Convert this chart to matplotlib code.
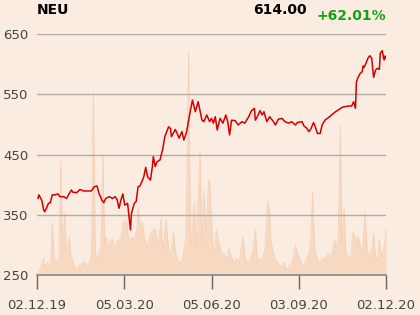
#!/usr/bin/env python

import matplotlib
matplotlib.use('Agg')
import matplotlib.pyplot as plt
import numpy as np

# price (days after 02.12.19)
days = [1, 2, 5, 7, 8, 10, 12, 14, 16, 19, 22, 24, 28, 31, 33, 36, 38, 42, 45, 49,
        54, 57, 60, 63, 65, 68, 70, 72, 76, 79, 82, 84, 86, 88, 90, 92, 95, 98, 99, 102,
        104, 106, 108, 110, 112, 114, 116, 119, 121, 122, 124, 126, 129, 132, 134, 138, 140, 141, 145, 147,
        149, 152, 154, 157, 159, 163, 166, 169, 173, 175, 178, 181, 183, 185, 187, 189, 192, 195, 198, 200,
        202, 204, 208, 211, 215, 218, 222, 225, 228, 229, 231, 234, 236, 238, 241, 244, 248, 250, 253, 257,
        260, 264, 267, 271, 273, 278, 280, 283, 285, 287, 290, 292, 294, 297, 299, 302, 306, 309, 313, 316,
        320, 323, 327, 330, 332, 334, 335, 337, 339, 341, 342, 343, 345, 347, 349, 351, 353, 355, 357, 359,
        360, 362, 364, 365, 366]
price = [377, 383, 374, 358, 355, 361, 369, 370, 383, 383, 384.5, 380, 380, 377, 383, 391, 387, 387, 392, 389.5,
         389.5, 389.5, 396.5, 397.7, 385.5, 374.5, 370, 377, 380, 377, 380, 375, 360.7, 374.5, 384.5, 366, 369, 325, 352, 369,
         372, 396.5, 397.7, 405, 413, 428.7, 413, 407.7, 430, 446.5, 430, 438, 441, 460, 479.5, 496, 493, 479.5, 491.5, 485,
         477, 488, 474, 488, 507, 540.5, 521, 537.6, 507, 504.5, 515.6, 504.5, 510, 502, 512.7, 490.7, 510, 502, 515.6, 504.5,
         482.4, 507, 506, 499, 504.5, 502, 512.7, 522.7, 526.6, 507, 512.7, 522.7, 515.6, 521, 504.5, 512.7, 504.5, 499, 508.4, 510,
         504.5, 502, 504.5, 499, 503, 504.5, 497.3, 493.5, 488, 491.7, 503, 495.2, 485, 485, 499, 507, 511.7, 515.6, 521, 523.9,
         528.3, 529.4, 530.5, 530.5, 537.6, 526.6, 570.8, 579.1, 584.8, 587.5, 596.9, 594.7, 601.4, 609.7, 614, 609.7, 578, 590, 593, 591.4,
         618, 622.3, 606.8, 613.5, 610]

# volume, in price-axis units above the 250 base line
vol_days = [0, 3, 7, 8, 11, 14, 16, 18, 21, 23, 25, 27, 29, 31, 34, 35, 38, 40, 43, 47,
            50, 52, 55, 57, 59, 61, 63, 65, 67, 69, 71, 72, 75, 77, 79, 81, 84, 86, 88, 91,
            92, 94, 96, 99, 102, 105, 106, 108, 110, 113, 116, 119, 121, 124, 127, 130, 132, 135, 138, 140,
            143, 146, 148, 152, 154, 156, 159, 161, 165, 167, 171, 173, 175, 177, 180, 181, 184, 186, 188, 191,
            194, 196, 199, 201, 204, 207, 209, 212, 216, 218, 221, 223, 226, 229, 231, 234, 237, 239, 242, 244,
            245, 248, 250, 253, 257, 259, 262, 264, 267, 271, 273, 276, 278, 281, 285, 287, 289, 291, 293, 296,
            299, 301, 305, 307, 310, 312, 314, 316, 318, 320, 322, 324, 327, 329, 331, 333, 335, 337, 339, 341,
            344, 346, 348, 350, 353, 355, 357, 359, 361, 364, 366]
volume = [3, 8, 28, 12, 22, 8, 86, 25, 20, 30, 194, 36, 105, 36, 64, 36, 22, 8, 14, 20,
          22, 11, 22, 36, 304, 42, 25, 36, 47, 199, 47, 64, 44, 58, 61, 42, 58, 53, 64, 91,
          80, 91, 58, 64, 58, 80, 113, 80, 88, 58, 47, 69, 75, 77, 47, 94, 36, 91, 47, 30,
          72, 30, 25, 19, 42, 58, 371, 36, 122, 47, 207, 53, 141, 69, 158, 155, 58, 30, 75, 53,
          30, 36, 25, 44, 30, 19, 28, 22, 64, 30, 19, 25, 36, 75, 30, 25, 30, 42, 124, 102,
          58, 36, 25, 19, 14, 22, 8, 14, 19, 50, 36, 25, 14, 22, 36, 58, 138, 47, 30, 19,
          28, 25, 36, 28, 42, 58, 44, 64, 249, 47, 113, 36, 28, 30, 72, 64, 58, 64, 47, 36,
          105, 47, 30, 36, 69, 30, 25, 58, 30, 47, 80]

date_labels = ['02.12.19', '05.03.20', '05.06.20', '03.09.20', '02.12.20']
yticks = [250, 350, 450, 550, 650]

title = 'NEU'
last_price = '614.00'
change = '+62.01%'


def main():
    bg = '#fbece1'
    fig = plt.figure(figsize=(4.2, 3.15), dpi=100, facecolor=bg)
    ax = fig.add_axes([37 / 420, 1 - 275 / 315, 349 / 420, 241 / 315])
    ax.set_facecolor(bg)

    base = yticks[0]
    vd = np.array(vol_days)
    vv = np.array(volume) + base
    ax.fill_between(vd, base, vv, color='#f7d8c0', lw=0, zorder=1)
    ax.plot(vd, vv, color='#f4cfb4', lw=0.5, zorder=1)

    for y in yticks[1:]:
        ax.axhline(y, color='#b3aca6', lw=1.0, zorder=2)

    ax.plot(days, price, color='#d40000', lw=1.1, zorder=3)

    ax.set_xlim(0, 366)
    ax.set_ylim(yticks[0], yticks[-1])
    ax.set_yticks(yticks)
    ax.set_xticks(np.linspace(0, 366, len(date_labels)))
    ax.set_xticklabels(date_labels)
    ax.tick_params(axis='y', length=0, pad=6, labelsize=9.5, labelcolor='#444444')
    ax.tick_params(axis='x', length=10, width=1, color='#666666', pad=7,
                   labelsize=9.5, labelcolor='#444444')
    for side in ['top', 'right', 'left']:
        ax.spines[side].set_visible(False)
    ax.spines['bottom'].set_color('#888888')
    ax.spines['bottom'].set_linewidth(1.2)
    ax.spines['bottom'].set_zorder(4)

    fig.text(37 / 420, 1 - 10.5 / 315, title, fontsize=10, fontweight='bold',
             ha='left', va='center', color='black')
    fig.text(307 / 420, 1 - 9.5 / 315, last_price, fontsize=10, fontweight='bold',
             ha='right', va='center', color='black')
    fig.text(386 / 420, 1 - 16.5 / 315, change, fontsize=10, fontweight='bold',
             ha='right', va='center', color='#16a016')

    fig.savefig('out.png', dpi=100, facecolor=bg)


if __name__ == '__main__':
    main()
